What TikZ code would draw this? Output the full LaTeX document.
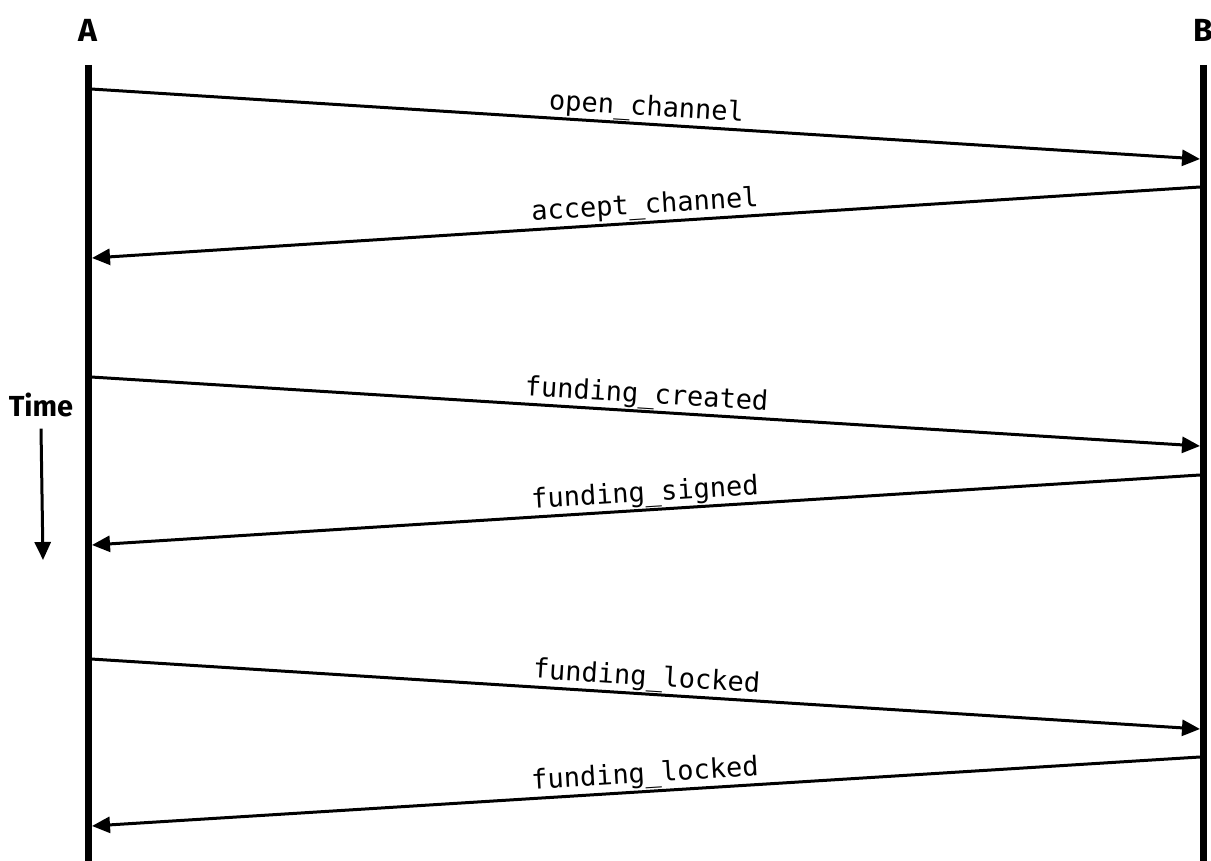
\documentclass[tikz,border=0pt]{standalone}
\usepackage{fontspec}
\setmainfont{Fira Sans}
\setmonofont{DejaVu Sans Mono}
\usepackage{xcolor}
\usetikzlibrary{arrows.meta}
\tikzstyle{lifeline} = [draw=black, line width=7pt]
\tikzstyle{msg} = [draw=black, line width=3pt, -{Triangle[length=18pt,width=16pt]}]
\tikzstyle{msglabel} = [font=\fontsize{27}{30}\selectfont\ttfamily, midway, sloped, above, inner sep=1pt]
\tikzstyle{party} = [font=\fontsize{32}{36}\selectfont\bfseries]

\begin{document}
\begin{tikzpicture}[x=1pt, y=-1pt]
        \useasboundingbox (0,0) rectangle (1211,861);
        % parties
        \node[party] (A) at (88,30) {A};
        \node[party] (B) at (1203,30) {B};
        \coordinate (Atop) at (88,65);
        \coordinate (Abot) at (88,861);
        \coordinate (Btop) at (1203,65);
        \coordinate (Bbot) at (1203,861);
        \draw[lifeline] (Atop) -- (Abot);
        \draw[lifeline] (Btop) -- (Bbot);
        % message end points
        \coordinate (a1) at (91,89);   \coordinate (b1) at (1200,159);
        \coordinate (b2) at (1200,187); \coordinate (a2) at (92,258);
        \coordinate (a3) at (91,377);  \coordinate (b3) at (1200,446);
        \coordinate (b4) at (1200,475); \coordinate (a4) at (92,545);
        \coordinate (a5) at (91,659);  \coordinate (b5) at (1200,729);
        \coordinate (b6) at (1200,757); \coordinate (a6) at (92,826);
        \draw[msg] (a1) -- (b1) node[msglabel] {open\_channel};
        \draw[msg] (b2) -- (a2) node[msglabel] {accept\_channel};
        \draw[msg] (a3) -- (b3) node[msglabel] {funding\_created};
        \draw[msg] (b4) -- (a4) node[msglabel] {funding\_signed};
        \draw[msg] (a5) -- (b5) node[msglabel] {funding\_locked};
        \draw[msg] (b6) -- (a6) node[msglabel] {funding\_locked};
        % time axis
        \node[font=\fontsize{29}{32}\selectfont\bfseries] (time) at (41,405) {Time};
        \coordinate (tend) at (43,560);
        \draw[msg] (time.south) ++(0,8) coordinate (tstart) -- (tend);
    \end{tikzpicture}
\end{document}
